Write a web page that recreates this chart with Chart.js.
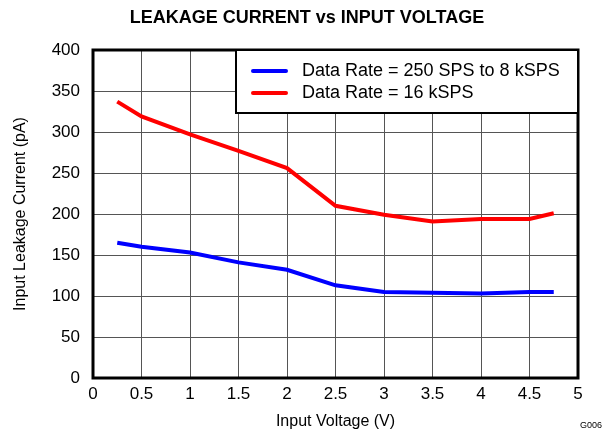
<!DOCTYPE html>
<html>
<head>
<meta charset="utf-8">
<script src="https://cdn.jsdelivr.net/npm/chart.js@4"></script>
<style>
  html, body { margin: 0; padding: 0; background: #fff; }
  #wrap { width: 608px; height: 431px; position: relative; }
</style>
</head>
<body>
<div id="wrap"><canvas id="leakChart"></canvas></div>
<script>
const inputVoltage = [0.25, 0.5, 1, 1.5, 2, 2.5, 3, 3.5, 4, 4.5, 4.75];
const leakLowRate = [165, 160, 153, 141, 132, 113, 105, 104, 103, 105, 105];
const leakHighRate = [337, 319, 297, 277, 256, 210, 199, 191, 194, 194, 201];
const seriesLabels = ['Data Rate = 250 SPS to 8 kSPS', 'Data Rate = 16 kSPS'];
const chartTitle = 'LEAKAGE CURRENT vs INPUT VOLTAGE';
const figId = 'G006';

const font = 'Arial, "Liberation Sans", sans-serif';

const frame = {
  id: 'frame',
  afterDraw(chart) {
    const { ctx, chartArea: a } = chart;
    ctx.save();
    ctx.strokeStyle = '#000';
    ctx.lineWidth = 3;
    ctx.strokeRect(a.left, a.top, a.right - a.left, a.bottom - a.top);

    // legend box, top right inside plot
    const bx = 236, by = a.top, bw = a.right - bx, bh = 63;
    ctx.fillStyle = '#fff';
    ctx.fillRect(bx, by, bw, bh);
    ctx.lineWidth = 2;
    ctx.strokeRect(bx, by, bw, bh);
    ctx.font = '18px ' + font;
    ctx.textBaseline = 'middle';
    chart.data.datasets.forEach((ds, i) => {
      const y = by + 21 + i * 22;
      ctx.strokeStyle = ds.borderColor;
      ctx.lineWidth = 4;
      ctx.lineCap = 'round';
      ctx.beginPath();
      ctx.moveTo(253, y);
      ctx.lineTo(286, y);
      ctx.stroke();
      ctx.fillStyle = '#000';
      ctx.fillText(ds.label, 302, y);
    });

    ctx.font = 'bold 18px ' + font;
    ctx.textAlign = 'center';
    ctx.textBaseline = 'middle';
    ctx.fillText(chartTitle, 307, 18);

    ctx.font = '9px ' + font;
    ctx.textAlign = 'right';
    ctx.textBaseline = 'alphabetic';
    ctx.fillText(figId, 602, 428);
    ctx.restore();
  }
};

new Chart(document.getElementById('leakChart'), {
  type: 'line',
  data: {
    datasets: [
      {
        label: seriesLabels[0],
        data: inputVoltage.map((v, i) => ({ x: v, y: leakLowRate[i] })),
        borderColor: '#0000ff',
        borderWidth: 4,
      },
      {
        label: seriesLabels[1],
        data: inputVoltage.map((v, i) => ({ x: v, y: leakHighRate[i] })),
        borderColor: '#ff0000',
        borderWidth: 4,
      },
    ],
  },
  options: {
    responsive: true,
    maintainAspectRatio: false,
    animation: false,
    layout: { padding: { top: 50, right: 30, left: 0, bottom: 0 } },
    elements: { point: { radius: 0 }, line: { tension: 0 } },
    plugins: { legend: { display: false }, title: { display: false }, tooltip: { enabled: false } },
    scales: {
      x: {
        type: 'linear',
        min: 0,
        max: 5,
        ticks: { stepSize: 0.5, color: '#000', font: { size: 17, family: font }, padding: 6, maxRotation: 0,
          callback: v => String(v) },
        grid: { color: '#555', lineWidth: 1, drawTicks: false },
        border: { display: false },
        title: { display: true, text: 'Input Voltage (V)', color: '#000', font: { size: 16, family: font }, padding: 0 },
        afterFit: s => { s.height = 53; },
      },
      y: {
        min: 0,
        max: 400,
        ticks: { stepSize: 50, color: '#000', font: { size: 17, family: font }, padding: 13 },
        grid: { color: '#555', lineWidth: 1, drawTicks: false },
        border: { display: false },
        title: { display: true, text: 'Input Leakage Current (pA)', color: '#000', font: { size: 16, family: font }, padding: { top: 11 } },
        afterFit: s => { s.width = 93; },
      },
    },
  },
  plugins: [frame],
});
</script>
</body>
</html>
